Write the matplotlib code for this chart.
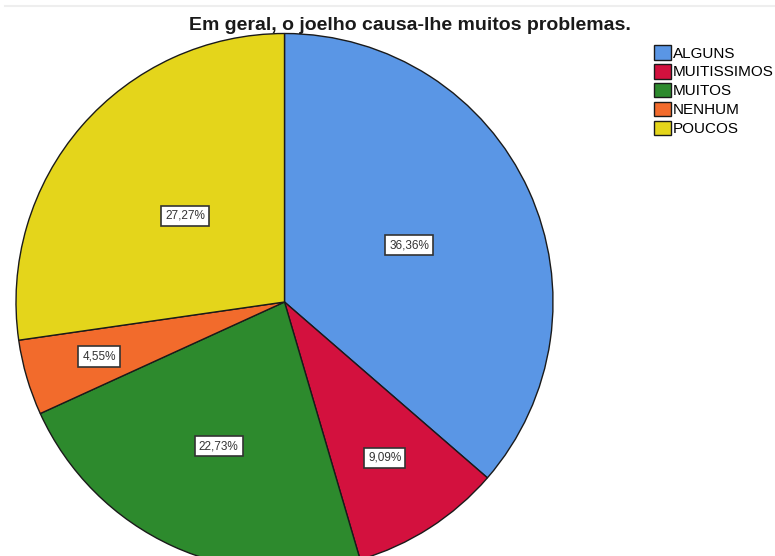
import numpy as np
import matplotlib.pyplot as plt

categories = ["ALGUNS", "MUITISSIMOS", "MUITOS", "NENHUM", "POUCOS"]
counts = [8, 2, 5, 1, 6]
colors = ["#5a96e5", "#d3113e", "#2d8a2d", "#f26b2c", "#e4d51b"]
# radial position of each percentage box, as a fraction of the radius
label_radius = [0.51, 0.69, 0.59, 0.72, 0.49]

plt.rcParams['font.family'] = ['Liberation Sans', 'DejaVu Sans']

W, H = 775, 556
fig = plt.figure(figsize=(W / 100, H / 100), dpi=100)
ax = fig.add_axes([0, 0, 1, 1])

# pie centre and radius in pixels
cx, cy, r = 284.5, 302.0, 268.5

wedges, _ = ax.pie(counts, colors=colors, startangle=90, counterclock=False,
                   radius=1.0, center=(0, 0), frame=True,
                   wedgeprops=dict(edgecolor="#1a1a1a", linewidth=1.0))
ax.set_xlim(-cx / r, (W - cx) / r)
ax.set_ylim(-(H - cy) / r, cy / r)
ax.set_aspect('auto')
ax.axis('off')

total = sum(counts)
for w, n, lr in zip(wedges, counts, label_radius):
    mid = np.deg2rad((w.theta1 + w.theta2) / 2)
    pct = f"{100 * n / total:.2f}%".replace(".", ",")
    ax.text(lr * np.cos(mid), lr * np.sin(mid), pct, ha='center', va='center',
            fontsize=8.5, color="#333333",
            bbox=dict(boxstyle='square,pad=0.35', facecolor='white',
                      edgecolor='#333333', linewidth=1.2))

fig.text(410 / W, 1 - 26 / H, "Em geral, o joelho causa-lhe muitos problemas.",
         ha='center', va='center', fontsize=14, fontweight='bold',
         color="#1a1a1a", zorder=10)

fig.legend(wedges, categories, loc='upper left',
           bbox_to_anchor=(654 / W, 1 - 45 / H), frameon=False,
           fontsize=11, handlelength=1.1, handleheight=1.1,
           handletextpad=0.15, labelspacing=0.22, borderpad=0, borderaxespad=0)

fig.add_artist(plt.Line2D([5 / W, 1], [1 - 6 / H, 1 - 6 / H],
                          color="#eeeeee", linewidth=1.5))

fig.savefig("out.png", dpi=100)
